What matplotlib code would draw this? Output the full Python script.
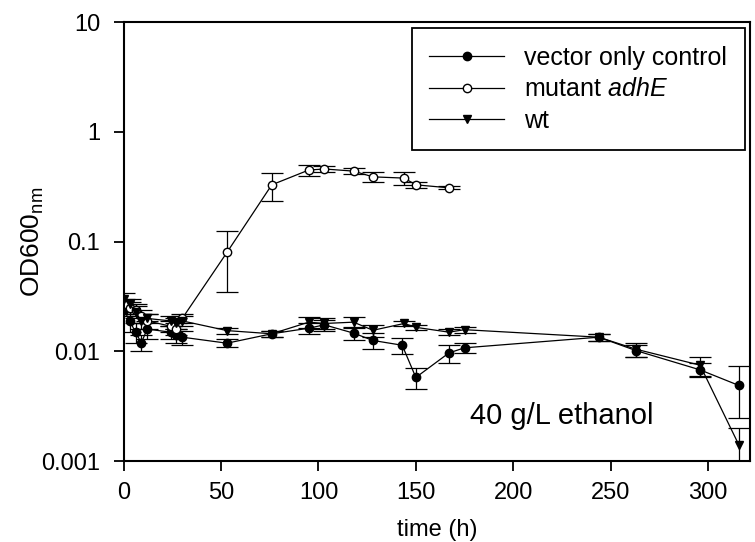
import numpy as np
import matplotlib
matplotlib.use('Agg')
import matplotlib.pyplot as plt

plt.rcParams['font.family'] = ['Liberation Sans', 'DejaVu Sans']
plt.rcParams['mathtext.fontset'] = 'custom'
plt.rcParams['mathtext.rm'] = 'Liberation Sans'
plt.rcParams['mathtext.it'] = 'Liberation Sans:italic'

# vector only control (filled circles)
ctrl_t = [0, 3, 6, 9, 12, 24, 27, 30, 53, 76, 95, 103, 118, 128, 143, 150, 167, 175, 244, 263, 296, 316]
ctrl_od = [0.024, 0.019, 0.015, 0.012, 0.016, 0.015, 0.014, 0.0135, 0.0119, 0.0145, 0.0163, 0.0175,
           0.0147, 0.0126, 0.0114, 0.0058, 0.0097, 0.0108, 0.0135, 0.0102, 0.0068, 0.0049]
ctrl_err = [0.003, 0.004, 0.003, 0.002, 0.003, 0.002, 0.002, 0.002, 0.001, 0.001, 0.002, 0.002,
            0.002, 0.002, 0.002, 0.0012, 0.0018, 0.0012, 0.001, 0.0012, 0.001, 0.0024]

# mutant adhE (open circles)
mut_t = [0, 3, 6, 9, 12, 24, 27, 30, 53, 76, 95, 103, 118, 128, 144, 150, 167]
mut_od = [0.027, 0.025, 0.024, 0.021, 0.019, 0.017, 0.016, 0.02, 0.080, 0.33, 0.45, 0.46,
          0.44, 0.39, 0.38, 0.33, 0.31]
mut_err = [0.003, 0.003, 0.003, 0.003, 0.003, 0.002, 0.002, 0.002, 0.045, 0.095, 0.05, 0.03,
           0.03, 0.04, 0.05, 0.02, 0.01]

# wt (filled down triangles)
wt_t = [0, 3, 6, 9, 12, 24, 27, 30, 53, 76, 95, 103, 118, 128, 144, 150, 167, 175, 244, 263, 296, 316]
wt_od = [0.03, 0.027, 0.023, 0.019, 0.02, 0.019, 0.018, 0.019, 0.0155, 0.0145, 0.0185, 0.018,
         0.0185, 0.0156, 0.018, 0.0166, 0.015, 0.0158, 0.0135, 0.0105, 0.0075, 0.0014]
wt_err = [0.004, 0.003, 0.003, 0.003, 0.002, 0.002, 0.002, 0.002, 0.001, 0.001, 0.002, 0.002,
          0.002, 0.002, 0.001, 0.001, 0.001, 0.001, 0.001, 0.0015, 0.0015, 0.0006]

fig = plt.figure(figsize=(7.55, 5.42), dpi=100)
ax = fig.add_axes([0.164, 0.149, 0.829, 0.810])

kw = dict(color='k', lw=0.9, elinewidth=0.9, capsize=8, capthick=0.9, ms=6)
c1 = ax.errorbar(ctrl_t, ctrl_od, yerr=ctrl_err, marker='o', mfc='k', mec='k', **kw)
c2 = ax.errorbar(mut_t, mut_od, yerr=mut_err, marker='o', mfc='white', mec='k', **kw)
c3 = ax.errorbar(wt_t, wt_od, yerr=wt_err, marker='v', mfc='k', mec='k', **kw)

ax.set_yscale('log')
ax.set_ylim(0.001, 10)
ax.set_xlim(0, 321.5)
ax.set_xticks([0, 50, 100, 150, 200, 250, 300])
ax.set_yticks([0.001, 0.01, 0.1, 1, 10])
ax.set_yticklabels(['0.001', '0.01', '0.1', '1', '10'])
ax.minorticks_off()
ax.tick_params(axis='both', direction='out', length=7, width=1.3, labelsize=17)
ax.tick_params(axis='x', pad=8)
ax.tick_params(axis='y', pad=10)
for sp in ax.spines.values():
    sp.set_linewidth(1.5)

ax.set_xlabel('time (h)', fontsize=17, labelpad=11)
ax.set_ylabel(r'OD600$_{\mathrm{nm}}$', fontsize=19)
ax.yaxis.set_label_coords(-0.125, 0.5)

ax.text(178, 0.0026, '40 g/L ethanol', fontsize=21, ha='left', va='center')

leg = ax.legend([c1[0], c2[0], c3[0]],
                ['vector only control', r'mutant $\mathit{adhE}$', 'wt'],
                loc='upper right', bbox_to_anchor=(0.992, 0.986), borderaxespad=0,
                fontsize=18, handlelength=3.0, labelspacing=0.3, borderpad=0.7,
                handletextpad=0.8, fancybox=False, framealpha=1, edgecolor='k')
leg.get_frame().set_linewidth(1.3)

fig.savefig('out.png', dpi=100)
